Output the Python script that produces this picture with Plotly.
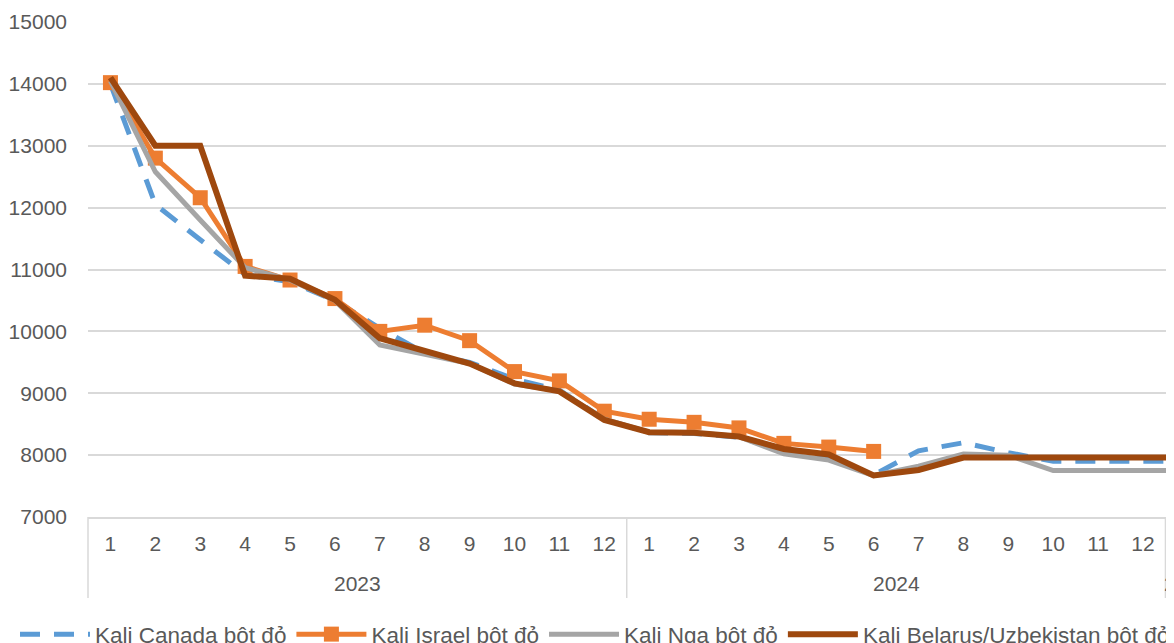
import plotly.graph_objects as go

# ---- data ----
months = [1, 2, 3, 4, 5, 6, 7, 8, 9, 10, 11, 12,
          1, 2, 3, 4, 5, 6, 7, 8, 9, 10, 11, 12,
          1]
year_labels = ["2023", "2024", "2025"]
year_counts = [12, 12, 1]

series_names = ["Kali Canada bôt đỏ", "Kali Israel bôt đỏ",
                "Kali Nga bôt đỏ", "Kali Belarus/Uzbekistan bôt đỏ"]

canada = [14000, 12050, 11480, 10920, 10800, 10500, 10050, 9650, 9500, 9230, 9050, 8580,
          8360, 8350, 8290, 8060, 7960, 7680, 8070, 8200, 8040, 7900, 7900, 7900,
          7900]
israel = [14020, 12800, 12160, 11050, 10830, 10530, 10000, 10100, 9850, 9350, 9200, 8710,
          8580, 8530, 8440, 8190, 8130, 8060, None, None, None, None, None, None,
          None]
nga = [14050, 12580, 11800, 11030, 10830, 10500, 9780, 9620, 9480, 9150, 9040, 8580,
       8370, 8360, 8300, 8020, 7920, 7670, 7820, 8020, 8000, 7750, 7750, 7750,
       7750]
belarus = [14100, 13000, 13000, 10900, 10850, 10510, 9890, 9680, 9480, 9160, 9030, 8570,
           8370, 8360, 8300, 8100, 8010, 7670, 7760, 7960, 7960, 7960, 7960, 7960,
           7960]

y_min, y_max, y_step = 7000, 15000, 1000

# ---- styling ----
TEXT = "#595959"
GRID = "#D9D9D9"
FONT = "Liberation Sans, Arial, sans-serif"

# the page body adds an 8px margin, so the figure is 8px smaller than the window
W, H = 1166, 635
ML, MT, PLOT_H = 80, 14, 495
MB = H - MT - PLOT_H

x = list(range(len(months)))
x0, x1 = -0.5, 23.69   # visible window of the category axis (chart is cropped at the right)

fig = go.Figure()
fig.add_trace(go.Scatter(x=x, y=canada, name=series_names[0], mode="lines",
                         line=dict(color="#5B9BD5", width=5, dash="20px,14px")))
fig.add_trace(go.Scatter(x=x, y=israel, name=series_names[1], mode="lines+markers",
                         line=dict(color="#ED7D31", width=5),
                         marker=dict(symbol="square", size=15, color="#ED7D31")))
fig.add_trace(go.Scatter(x=x, y=nga, name=series_names[2], mode="lines",
                         line=dict(color="#A5A5A5", width=5)))
fig.add_trace(go.Scatter(x=x, y=belarus, name=series_names[3], mode="lines",
                         line=dict(color="#9E480E", width=6)))


def to_paper(pos):
    return (pos - x0) / (x1 - x0)


# year group labels and dividers
shapes = []
annotations = []
start = 0
bounds = [-0.5]
for label, n in zip(year_labels, year_counts):
    center = start + (n - 1) / 2
    annotations.append(dict(text=label, x=to_paper(center), xref="paper",
                            y=-66.5 / PLOT_H, yref="paper",
                            xanchor="center", yanchor="middle", showarrow=False,
                            font=dict(size=21, color=TEXT, family=FONT)))
    start += n
    bounds.append(start - 0.5)
for b in bounds:
    shapes.append(dict(type="line", xref="paper", yref="paper",
                       x0=to_paper(b), x1=to_paper(b), y0=0, y1=-81 / PLOT_H,
                       line=dict(color=GRID, width=1.5)))

fig.update_layout(
    width=W, height=H,
    margin=dict(l=ML, r=0, t=MT, b=MB, autoexpand=False),
    paper_bgcolor="white", plot_bgcolor="white",
    font=dict(family=FONT, color=TEXT, size=21),
    showlegend=True,
    legend=dict(orientation="h", x=-73 / (W - ML), xanchor="left",
                y=-96 / PLOT_H, yanchor="top",
                itemwidth=70, font=dict(size=22.5, color=TEXT, family=FONT),
                bgcolor="rgba(0,0,0,0)", traceorder="normal"),
    shapes=shapes,
    annotations=annotations,
)
fig.update_xaxes(range=[x0, x1], tickmode="array", tickvals=x,
                 ticktext=[str(m) for m in months], showgrid=False, zeroline=False,
                 showline=True, linecolor=GRID, linewidth=1.5, ticks="",
                 ticklabelstandoff=7, tickfont=dict(size=21, color=TEXT, family=FONT))
fig.update_yaxes(range=[y_min, y_max], dtick=y_step, tick0=y_min, tickformat="d",
                 showgrid=True, gridcolor=GRID, gridwidth=1.5, zeroline=False,
                 showline=False, ticks="", ticklabelstandoff=20,
                 tickfont=dict(size=21, color=TEXT, family=FONT))

fig.write_html("out.html")
